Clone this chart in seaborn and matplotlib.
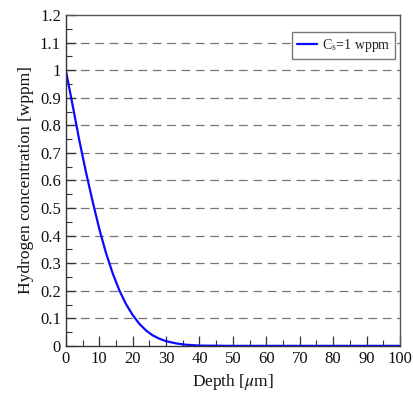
import numpy as np
import pandas as pd
import matplotlib
matplotlib.use("Agg")
import matplotlib.pyplot as plt
import seaborn as sns
from matplotlib.ticker import MultipleLocator, FuncFormatter

# Values
depth = [0, 2, 4, 6, 8, 10, 12, 14, 16, 18, 20, 22, 24, 26, 28, 30,
         33, 36, 40, 50, 60, 70, 80, 90, 100]
conc = [1.0, 0.875, 0.748, 0.632, 0.525, 0.425, 0.338, 0.264, 0.202, 0.152,
        0.112, 0.08, 0.056, 0.038, 0.026, 0.017, 0.009, 0.004, 0.001,
        0, 0, 0, 0, 0, 0]
series_label = r"C$_{\rm s}$=1 wppm"

df = pd.DataFrame({"Depth": depth, "Conc": conc})

sns.set_style("ticks")
plt.rcParams["font.family"] = ["Liberation Serif", "DejaVu Serif"]
plt.rcParams["mathtext.fontset"] = "stix"

fig = plt.figure(figsize=(4.14, 3.98), dpi=100)
ax = fig.add_axes([0.159, 0.131, 0.807, 0.831])

sns.lineplot(data=df, x="Depth", y="Conc", ax=ax, color="#0a0aff",
             linewidth=1.6, label=series_label)

ax.set_xlim(0, 100)
ax.set_ylim(0, 1.2)
ax.xaxis.set_major_locator(MultipleLocator(10))
ax.xaxis.set_minor_locator(MultipleLocator(5))
ax.yaxis.set_major_locator(MultipleLocator(0.1))
ax.yaxis.set_minor_locator(MultipleLocator(0.05))
ax.yaxis.set_major_formatter(FuncFormatter(lambda v, p: f"{v:g}"))

# dashed horizontal guides
for yv in np.arange(0.1, 1.15, 0.1):
    ax.axhline(yv, color="#777777", linestyle=(0, (7, 4.5)), linewidth=0.9, zorder=0)

ax.tick_params(which="major", direction="in", length=7, width=0.9,
               colors="#333333", labelsize=12, labelcolor="#111111")
ax.tick_params(which="minor", direction="in", length=4, width=0.8,
               colors="#333333")
for s in ax.spines.values():
    s.set_color("#555555")
    s.set_linewidth(1.0)
ax.spines["left"].set_color("#333333")
ax.spines["bottom"].set_color("#333333")

ax.set_xlabel(r"Depth [$\mu$m]", fontsize=12.5, color="#111111")
ax.set_ylabel("Hydrogen concentration [wppm]", fontsize=12.5, color="#111111")

leg = ax.legend(loc="upper right", fontsize=10, frameon=True, fancybox=False,
                handlelength=1.5, borderpad=0.35, handletextpad=0.3,
                borderaxespad=0, bbox_to_anchor=(0.985, 0.949))
leg.get_frame().set_edgecolor("#555555")
leg.get_frame().set_linewidth(1.0)

fig.savefig("out.png", dpi=100)
